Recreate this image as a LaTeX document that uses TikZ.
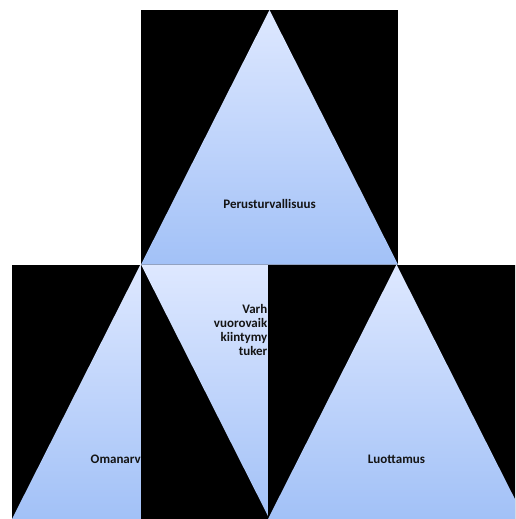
\documentclass[tikz,border=0pt]{standalone}
\usepackage{fontspec}
\setmainfont{Carlito}
\definecolor{triTop}{RGB}{222,232,255}
\definecolor{triBot}{RGB}{162,193,247}
\begin{document}
\begin{tikzpicture}[x=1pt,y=-1pt,
  blackbox/.style={fill=black,draw=none},
  tri/.style={draw=none,top color=triTop,bottom color=triBot,shading angle=0},
  lbl/.style={font=\fontsize{13}{14}\selectfont\bfseries,text=black!92,inner sep=0pt,anchor=base}]
\useasboundingbox (0,0) rectangle (515,519);
\clip (0,0) rectangle (515,519);
% top box
\fill[blackbox] (141,10) rectangle (398,264.5);
\shade[tri] (269.5,10) -- (398,264.5) -- (141,264.5) -- cycle;
\node[lbl] (peru) at (269.5,208) {Perusturvallisuus};
% bottom left box
\fill[blackbox] (12,264.5) rectangle (269,519);
\shade[tri] (140.5,264.5) -- (269,519) -- (12,519) -- cycle;
\node[lbl,anchor=base east] (oman) at (141,463) {Omanarv};
% middle box
\fill[blackbox] (141,264.5) rectangle (398,519);
\shade[tri] (141,264.5) -- (398,264.5) -- (269.5,519) -- cycle;
\node[lbl,anchor=base east] (m1) at (267.5,313) {Varh};
\node[lbl,anchor=base east] (m2) at (267.5,327) {vuorovaik};
\node[lbl,anchor=base east] (m3) at (267.5,341) {kiintymy};
\node[lbl,anchor=base east] (m4) at (267.5,355) {tuker};
% bottom right box
\fill[blackbox] (267.5,264.5) rectangle (525,519);
\shade[tri] (396.5,264.5) -- (525,519) -- (268,519) -- cycle;
\node[lbl] (luot) at (396.5,463) {Luottamus};
\end{tikzpicture}
\end{document}
